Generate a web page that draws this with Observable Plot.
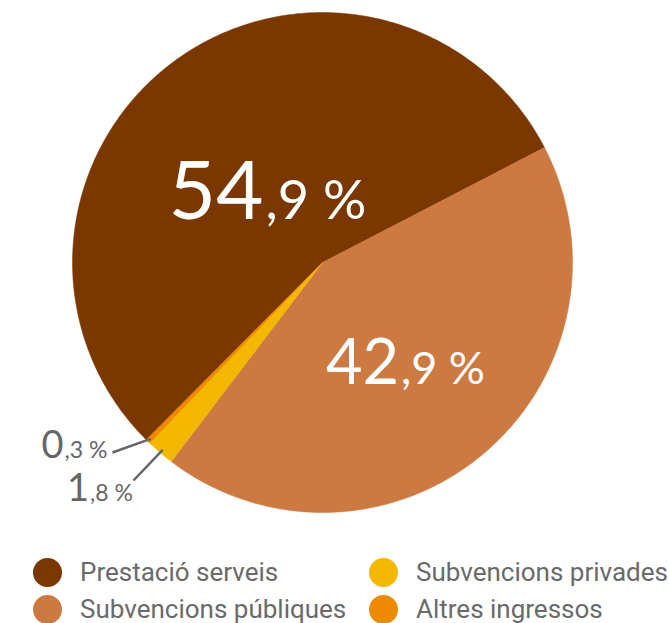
<!DOCTYPE html>
<html>
<head>
<meta charset="utf-8">
<script src="https://cdn.jsdelivr.net/npm/d3@7"></script>
<script src="https://cdn.jsdelivr.net/npm/@observablehq/plot@0.6"></script>
<style>
  html, body { margin: 0; padding: 0; background: #fff; }
  #chart { width: 669px; }
  .legend { position: relative; height: 83px; font-family: Roboto, "Noto Sans", sans-serif; color: #6a6a6a; font-size: 26px; }
  .item { position: absolute; display: flex; align-items: center; height: 36px; white-space: nowrap; }
  .sw { width: 29px; height: 29px; border-radius: 50%; margin-right: 18px; flex: none; }
</style>
</head>
<body>
<div id="chart"></div>
<script>
const categories = ["Prestació serveis", "Subvencions públiques", "Subvencions privades", "Altres ingressos"];
const values = [54.9, 42.9, 1.8, 0.3];
const colors = ["#7a3800", "#cd7a42", "#f4b800", "#ee8a00"];
const intPart = ["54", "42", "1", "0"];
const decPart = [",9 %", ",9 %", ",8 %", ",3 %"];

const data = categories.map((c, i) => ({category: c, value: values[i], color: colors[i]}));

// start angle chosen so the slices sit as in the reference
const startDeg = -135.2;
const arcs = d3.pie().sort(null).value(d => d.value)
  .startAngle(startDeg * Math.PI / 180)
  .endAngle((startDeg + 360) * Math.PI / 180)(data);

// Build slice outlines in unit coordinates
const slicePts = [];
for (const a of arcs) {
  const n = Math.max(2, Math.ceil((a.endAngle - a.startAngle) / 0.01));
  slicePts.push({k: a.data.category, x: 0, y: 0});
  for (let j = 0; j <= n; j++) {
    const t = a.startAngle + (a.endAngle - a.startAngle) * j / n;
    slicePts.push({k: a.data.category, x: Math.sin(t), y: Math.cos(t)});
  }
}

const mid = a => (a.startAngle + a.endAngle) / 2;
// Big inside labels
const inside = [
  {i: 0, x: -0.232, y: 0.176},
  {i: 1, x: 0.31, y: -0.484}
];

// Leader lines for small slices
const leaders = [
  {i: 3, x2: -0.84, y2: -0.76},
  {i: 2, x2: -0.756, y2: -0.872}
].map(o => {
  const m = mid(arcs[o.i]);
  return {...o, x1: 0.985 * Math.sin(m), y1: 0.985 * Math.cos(m)};
});
const outside = [
  {i: 3, x: -1.036, y: -0.78},
  {i: 2, x: -0.934, y: -0.952}
];

const font = "Lato, 'Open Sans', sans-serif";

const plot = Plot.plot({
  width: 669,
  height: 540,
  margin: 0,
  x: {domain: [-1, 1], range: [72, 572], axis: null},
  y: {domain: [-1, 1], range: [512, 12], axis: null},
  color: {domain: categories, range: colors},
  marks: [
    Plot.line(slicePts, {x: "x", y: "y", z: "k", fill: "k", stroke: "k", strokeWidth: 0.5, curve: "linear-closed"}),
    // inside labels: integer part
    Plot.text(inside, {x: "x", y: "y", text: d => intPart[d.i], textAnchor: "end", lineAnchor: "bottom",
      fill: "white", fontSize: d => d.i === 0 ? 82 : 63, fontFamily: font, dx: -1}),
    Plot.text(inside, {x: "x", y: "y", text: d => decPart[d.i], textAnchor: "start", lineAnchor: "bottom",
      fill: "white", fontSize: d => d.i === 0 ? 54 : 45, fontFamily: font, dx: 1}),
    Plot.link(leaders, {x1: "x1", y1: "y1", x2: "x2", y2: "y2", stroke: "#666", strokeWidth: 2.5}),
    Plot.text(outside, {x: "x", y: "y", text: d => intPart[d.i], textAnchor: "end", lineAnchor: "bottom",
      fill: "#666", fontSize: 38, fontFamily: font}),
    Plot.text(outside, {x: "x", y: "y", text: d => decPart[d.i], textAnchor: "start", lineAnchor: "bottom",
      fill: "#666", fontSize: 23, fontFamily: font, dx: 1})
  ]
});

const wrap = document.getElementById("chart");
wrap.appendChild(plot);

const legend = document.createElement("div");
legend.className = "legend";
const pos = [[0, 33, 14], [2, 369, 14], [1, 33, 51], [3, 369, 51]];
for (const [i, left, top] of pos) {
  const it = document.createElement("div");
  it.className = "item";
  it.style.left = left + "px";
  it.style.top = top + "px";
  const sw = document.createElement("span");
  sw.className = "sw";
  sw.style.background = colors[i];
  const tx = document.createElement("span");
  tx.textContent = categories[i];
  it.appendChild(sw);
  it.appendChild(tx);
  legend.appendChild(it);
}
wrap.appendChild(legend);
</script>
</body>
</html>
